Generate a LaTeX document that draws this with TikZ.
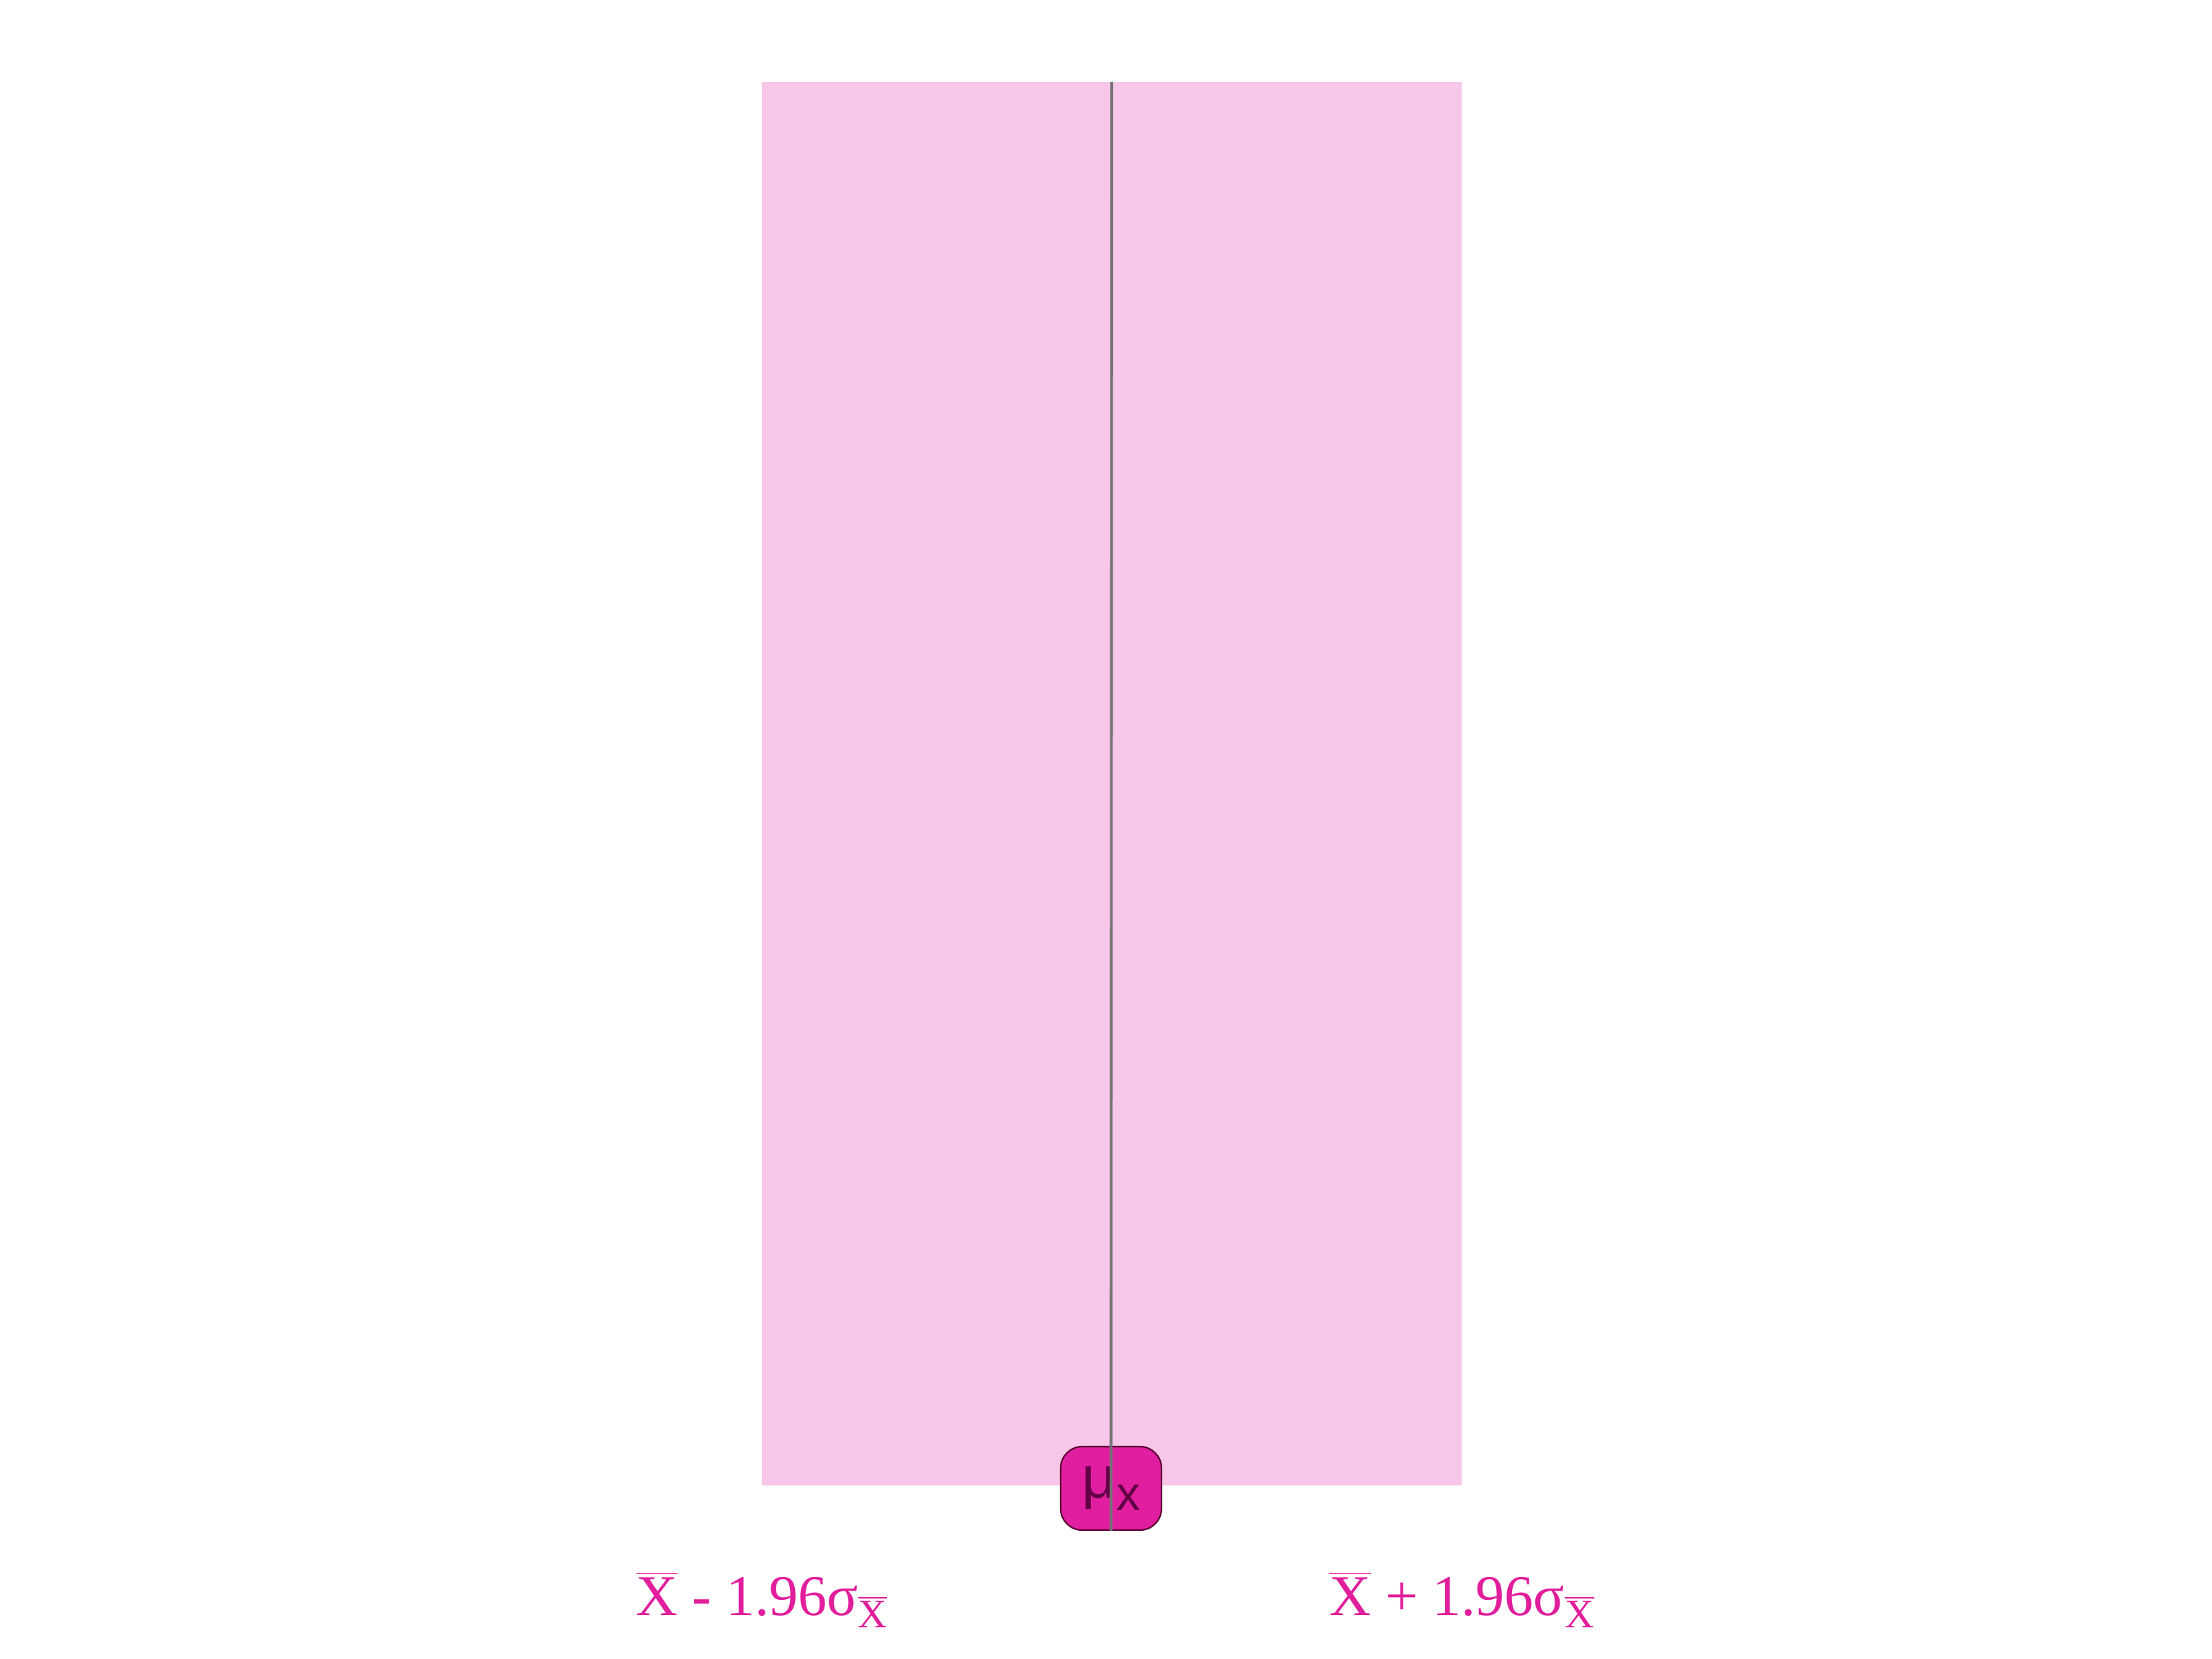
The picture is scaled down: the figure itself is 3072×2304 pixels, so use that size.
\documentclass[tikz,border=0pt]{standalone}
\usepackage{fontspec}
\setmainfont{Liberation Serif}
\newfontfamily\mufont{Liberation Sans}
\usetikzlibrary{positioning}
\definecolor{bandpink}{RGB}{248,198,232}
\definecolor{labelmag}{RGB}{225,30,155}
\definecolor{boxmag}{RGB}{225,30,160}
\definecolor{boxedge}{RGB}{90,0,50}
\definecolor{mutext}{RGB}{100,0,70}
\newcommand{\xbar}{$\overline{\mbox{X}}$}
\newcommand{\sexbar}{\raisebox{-0.22em}{\fontsize{16}{16}\selectfont\xbar}}
\tikzset{
  bound/.style={font=\fontsize{22.8}{26}\selectfont, text=labelmag, anchor=base, inner sep=0pt},
  mubox/.style={draw=boxedge, fill=boxmag, rounded corners=0.3cm, minimum width=1.4cm, minimum height=1.16cm, line width=0.6pt, inner sep=0pt, text=mutext}
}
\begin{document}
\begin{tikzpicture}[x=0.01cm, y=-0.01cm]
            \useasboundingbox (0,0) rectangle (3072,2304);
            \fill[bandpink] (1058,114) rectangle (2030,2063);
            \coordinate (meantop) at (1544,114);
            \node[mubox] (mu) at (1543,2067) {\mufont\fontsize{23.5}{26}\selectfont μ\raisebox{-0.2em}{\fontsize{19}{20}\selectfont x}};
            \draw[black!55, line width=1.1pt] (meantop) -- (mu.south);
            \node[bound] (lower) at (1058,2243) {\xbar{} - 1.96σ\sexbar};
            \node[bound] (upper) at (2030,2243) {\xbar{} + 1.96σ\sexbar};
        \end{tikzpicture}
\end{document}
